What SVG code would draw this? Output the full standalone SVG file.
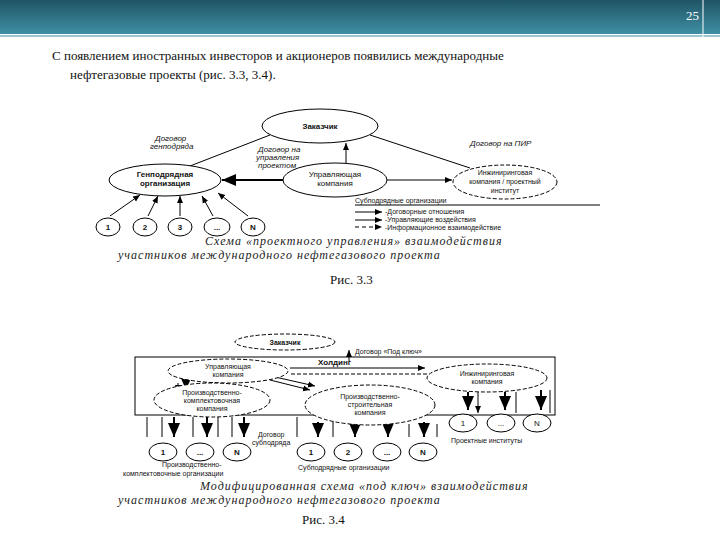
<svg xmlns="http://www.w3.org/2000/svg" width="720" height="540" viewBox="0 0 720 540">
<defs>
<marker id="a" markerWidth="8" markerHeight="8" refX="7" refY="4" orient="auto"><path d="M0,1 L7,4 L0,7z" fill="#000"/></marker>
<linearGradient id="g" x1="0" y1="0" x2="0" y2="1"><stop offset="0" stop-color="#1f5566"/><stop offset="1" stop-color="#3f8fa3"/></linearGradient>
</defs>
<style>
.t{font-family:"Liberation Sans",Arial,sans-serif;font-size:8px;fill:#111}
.u{font-family:"Liberation Sans",Arial,sans-serif;font-size:7px;fill:#111}
.b{font-weight:bold}
.s{font-family:"Liberation Serif","Times New Roman",serif;font-size:13px;fill:#111}
.c{font-family:"Liberation Serif",serif;font-style:italic;font-size:12px;fill:#222;letter-spacing:1px}
.e{fill:#fff;stroke:#000;stroke-width:1}
.d{fill:#fff;stroke:#000;stroke-width:1;stroke-dasharray:4 2}
.l{stroke:#000;stroke-width:1;fill:none}
.k{stroke:#000;stroke-width:2;fill:none}
</style>
<rect width="720" height="540" fill="#fff"/>
<rect x="0" y="0" width="720" height="34" fill="url(#g)"/>
<line x1="0" y1="36" x2="720" y2="36" stroke="#3f8fa3" stroke-width="1"/>
<line x1="703" y1="0" x2="703" y2="48" stroke="#fff" stroke-width="1"/>
<text x="686" y="20" class="s" style="fill:#fff">25</text>
<text x="52" y="60" class="s">С появлением иностранных инвесторов и акционеров появились международные</text>
<text x="70" y="79" class="s">нефтегазовые проекты (рис. 3.3, 3.4).</text>

<g id="connectors">
<line class="l" x1="270" y1="135" x2="190" y2="166"/>
<line class="l" x1="370" y1="135" x2="470" y2="168"/>
<line class="l" x1="346" y1="164" x2="346" y2="143" marker-end="url(#a)"/>
<line class="k" x1="283" y1="180" x2="222" y2="180" marker-end="url(#a)"/>
<line class="l" x1="387" y1="180" x2="452" y2="180" marker-end="url(#a)"/>
<line class="l" x1="110" y1="216" x2="140" y2="195" marker-end="url(#a)"/>
<line class="l" x1="148" y1="216" x2="158" y2="196" marker-end="url(#a)"/>
<line class="l" x1="180" y1="216" x2="180" y2="196" marker-end="url(#a)"/>
<line class="l" x1="213" y1="216" x2="202" y2="196" marker-end="url(#a)"/>
<line class="l" x1="248" y1="216" x2="218" y2="193" marker-end="url(#a)"/>
<line class="l" x1="355" y1="205" x2="600" y2="205"/>
<line class="l" x1="355" y1="212" x2="382" y2="212" marker-end="url(#a)"/>
<line class="l" x1="355" y1="220" x2="382" y2="220" marker-end="url(#a)"/>
<line class="l" x1="355" y1="227" x2="382" y2="227" stroke-dasharray="4 3" marker-end="url(#a)"/>

<line class="l" x1="349" y1="361" x2="349" y2="350" marker-end="url(#a)"/>
<line class="l" x1="290" y1="368" x2="425" y2="368" marker-end="url(#a)"/>
<line class="l" x1="427" y1="374" x2="290" y2="374" stroke-dasharray="4 2"/>
<line class="l" x1="270" y1="380" x2="310" y2="390" marker-end="url(#a)"/>
<line class="l" x1="275" y1="377" x2="315" y2="386" marker-end="url(#a)"/>
<line class="l" x1="178" y1="383" x2="178" y2="392" marker-end="url(#a)"/>
<line class="k" x1="186" y1="380" x2="186" y2="390" marker-end="url(#a)"/>
<path class="l" d="M162,417V437M218,417V437M297,417V437M333,420V437M409,424V437M147,417V437M193,417V437M232,417V437M437,424V437M516,392V413M550,390V413M478,392V413" marker-end="url(#a)"/>
<line class="k" x1="174" y1="417" x2="174" y2="437" marker-end="url(#a)"/>
<line class="k" x1="207" y1="417" x2="207" y2="437" marker-end="url(#a)"/>
<line class="k" x1="244" y1="417" x2="244" y2="437" marker-end="url(#a)"/>
<line class="k" x1="318" y1="422" x2="318" y2="437" marker-end="url(#a)"/>
<line class="k" x1="355" y1="424" x2="355" y2="437" marker-end="url(#a)"/>
<line class="k" x1="388" y1="424" x2="388" y2="437" marker-end="url(#a)"/>
<line class="k" x1="424" y1="422" x2="424" y2="437" marker-end="url(#a)"/>
<line class="k" x1="468" y1="392" x2="468" y2="410" marker-end="url(#a)"/>
<line class="k" x1="505" y1="392" x2="505" y2="410" marker-end="url(#a)"/>
<line class="k" x1="541" y1="390" x2="541" y2="410" marker-end="url(#a)"/>
</g>

<g id="fig33-labels">
<text class="t" x="155" y="141" font-style="italic">Договор</text>
<text class="t" x="150" y="149" font-style="italic">генподряда</text>
<text class="t" x="258" y="152" font-style="italic">Договор на</text>
<text class="t" x="256" y="160" font-style="italic">управления</text>
<text class="t" x="258" y="168" font-style="italic">проектом</text>
<text class="t" x="470" y="146" font-style="italic">Договор на ПИР</text>
<text class="u" x="355" y="203">Субподрядные организации</text>
<text class="u" x="385" y="214">-Договорные отношения</text>
<text class="u" x="385" y="222">-Управляющие воздействия</text>
<text class="u" x="385" y="230">-Информационное взаимодействие</text>
<text class="c" x="205" y="245">Схема «проектного управления» взаимодействия</text>
<text class="c" x="118" y="259">участников международного нефтегазового проекта</text>
<text class="s" x="330" y="284" font-size="10">Рис. 3.3</text>
</g>
<g id="n-zakazchik"><ellipse class="e" cx="320" cy="126" rx="58" ry="17"/><text class="t b" x="320" y="129" text-anchor="middle">Заказчик</text></g>
<g id="n-genpodr"><ellipse class="e" cx="165" cy="180" rx="56" ry="16"/><text class="t b" x="165" y="177" text-anchor="middle">Генподрядная</text><text class="t b" x="165" y="186" text-anchor="middle">организация</text></g>
<g id="n-upr"><ellipse class="e" cx="335" cy="180" rx="52" ry="17"/><text class="t" x="335" y="177" text-anchor="middle">Управляющая</text><text class="t" x="335" y="186" text-anchor="middle">компания</text></g>
<g id="n-inzh"><ellipse class="d" cx="505" cy="182" rx="52" ry="17"/><text class="u" x="505" y="175" text-anchor="middle">Инжиниринговая</text><text class="u" x="505" y="184" text-anchor="middle">компания / проектный</text><text class="u" x="505" y="193" text-anchor="middle">институт</text></g>
<g id="n-sub33">
<ellipse class="e" cx="108" cy="227" rx="12" ry="9"/><text class="t b" x="108" y="230" text-anchor="middle">1</text>
<ellipse class="e" cx="145" cy="227" rx="12" ry="9"/><text class="t b" x="145" y="230" text-anchor="middle">2</text>
<ellipse class="e" cx="180" cy="227" rx="12" ry="9"/><text class="t b" x="180" y="230" text-anchor="middle">3</text>
<ellipse class="e" cx="217" cy="227" rx="13" ry="9"/><text class="t b" x="217" y="230" text-anchor="middle">...</text>
<ellipse class="e" cx="253" cy="227" rx="12" ry="9"/><text class="t b" x="253" y="230" text-anchor="middle">N</text>
</g>

<g id="n-holding"><rect x="135" y="357" width="420" height="58" fill="none" stroke="#000"/><text class="t b" x="318" y="365">Холдинг</text></g>
<g id="n-zak2"><ellipse class="d" cx="285" cy="342" rx="50" ry="8"/><text class="u b" x="285" y="345" text-anchor="middle">Заказчик</text><text class="u" x="355" y="354">Договор «Под ключ»</text></g>
<g id="n-upr2"><ellipse class="d" cx="228" cy="371" rx="60" ry="12"/><text class="u" x="228" y="369" text-anchor="middle">Управляющая</text><text class="u" x="228" y="377" text-anchor="middle">компания</text></g>
<g id="n-inzh2"><ellipse class="d" cx="487" cy="378" rx="60" ry="14"/><text class="u" x="487" y="376" text-anchor="middle">Инжиниринговая</text><text class="u" x="487" y="384" text-anchor="middle">компания</text></g>
<g id="n-pk"><ellipse class="d" cx="212" cy="400" rx="58" ry="17"/><text class="u" x="212" y="395" text-anchor="middle">Производственно-</text><text class="u" x="212" y="403" text-anchor="middle">комплектовочная</text><text class="u" x="212" y="411" text-anchor="middle">компания</text></g>
<g id="n-ps"><ellipse class="d" cx="370" cy="405" rx="65" ry="20"/><text class="u" x="370" y="399" text-anchor="middle">Производственно-</text><text class="u" x="370" y="407" text-anchor="middle">строительная</text><text class="u" x="370" y="415" text-anchor="middle">компания</text></g>
<g id="n-sub34">
<ellipse class="e" cx="163" cy="452" rx="14" ry="9"/><text class="t b" x="163" y="455" text-anchor="middle">1</text>
<ellipse class="e" cx="200" cy="452" rx="14" ry="9"/><text class="t b" x="200" y="455" text-anchor="middle">...</text>
<ellipse class="e" cx="237" cy="452" rx="14" ry="9"/><text class="t b" x="237" y="455" text-anchor="middle">N</text>
<ellipse class="e" cx="311" cy="452" rx="14" ry="9"/><text class="t b" x="311" y="455" text-anchor="middle">1</text>
<ellipse class="e" cx="348" cy="452" rx="14" ry="9"/><text class="t b" x="348" y="455" text-anchor="middle">2</text>
<ellipse class="e" cx="387" cy="452" rx="14" ry="9"/><text class="t b" x="387" y="455" text-anchor="middle">...</text>
<ellipse class="e" cx="423" cy="452" rx="14" ry="9"/><text class="t b" x="423" y="455" text-anchor="middle">N</text>
<ellipse class="e" cx="463" cy="423" rx="14" ry="9"/><text class="t" x="463" y="426" text-anchor="middle">1</text>
<ellipse class="e" cx="501" cy="423" rx="14" ry="9"/><text class="t" x="501" y="426" text-anchor="middle">...</text>
<ellipse class="e" cx="537" cy="423" rx="14" ry="9"/><text class="t" x="537" y="426" text-anchor="middle">N</text>
</g>
<g id="fig34-labels">
<text class="u" x="258" y="437">Договор</text>
<text class="u" x="252" y="445">субподряда</text>
<text class="u" x="451" y="443">Проектные институты</text>
<text class="u" x="162" y="467">Производственно-</text>
<text class="u" x="123" y="476">комплектовочные организации</text>
<text class="u" x="298" y="470">Субподрядные организации</text>
<text class="c" x="200" y="490" font-size="10">Модифицированная схема «под ключ» взаимодействия</text>
<text class="c" x="118" y="504" font-size="10">участников международного нефтегазового проекта</text>
<text class="s" x="302" y="524" font-size="10">Рис. 3.4</text>
</g>
</svg>
